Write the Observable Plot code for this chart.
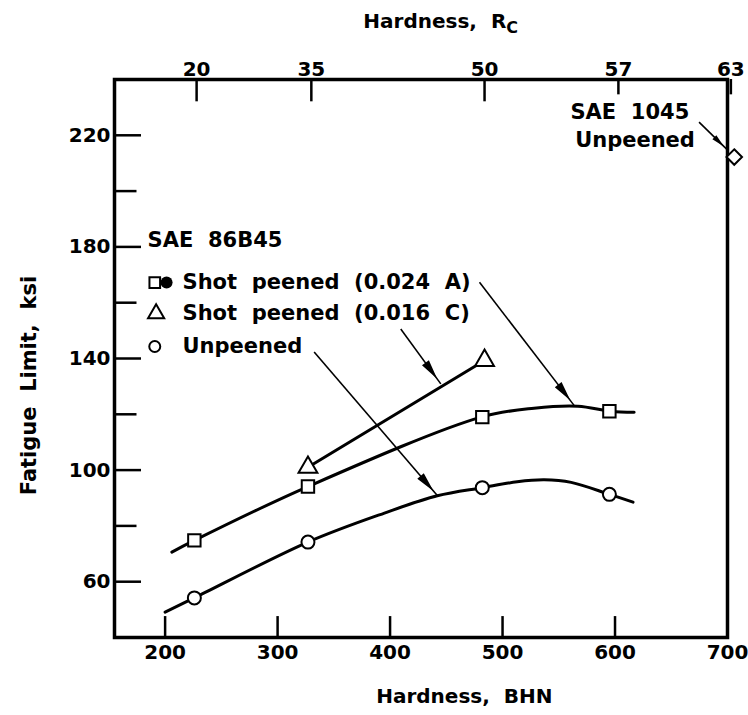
<!DOCTYPE html>
<html><head><meta charset="utf-8">
<script src="https://cdn.jsdelivr.net/npm/d3@7"></script>
<script src="https://cdn.jsdelivr.net/npm/@observablehq/plot@0.6"></script>
<style>
body{margin:0;background:#fff;}
#chart svg text{white-space:pre;}
</style></head><body><div id="chart"></div>
<script>
// ---- tick labels ----
const bhnTicks = [200, 300, 400, 500, 600, 700];
const ksiLabels = [60, 100, 140, 180, 220];
const ksiTicks = [60, 80, 100, 120, 140, 160, 180, 200, 220];
const rcLabels = [20, 35, 50, 57, 63];
const rcBhn = [228, 330, 484, 603, 703];

// ---- measured points, SAE 86B45 ----
const hardness = [226, 327, 482, 595];
const peenedA = [74.8, 94.1, 119.0, 121.1];      // shot peened (0.024 A)
const unpeened = [54.2, 74.2, 93.7, 91.3];       // unpeened
const peenedCHardness = [327, 484];
const peenedC = [101.0, 139.3];                  // shot peened (0.016 C)
// ---- SAE 1045 unpeened ----
const sae1045Hardness = [706];
const sae1045 = [212.2];

// ---- faired curves ----
const peenedACurveX = [206, 226, 327, 481, 528, 567, 596, 617];
const peenedACurveY = [70.6, 74.8, 94.1, 119.0, 122.2, 122.9, 121.1, 120.7];
const unpeenedCurveX = [200, 226, 327, 395, 442, 482, 513, 537, 561, 595, 616];
const unpeenedCurveY = [49.1, 54.2, 74.2, 84.6, 90.8, 93.7, 95.8, 96.5, 95.6, 91.3, 88.5];

// ---- leader arrows ----
const arrowX1 = [479.5, 409.5, 332.5, 674.7];
const arrowY1 = [167.3, 150.6, 142.3, 224.7];
const arrowX2 = [563.6, 445.1, 442.2, 700.6];
const arrowY2 = [123.2, 130.9, 90.8, 214.5];

// ---- legend / annotation text ----
const legendTitle = ["SAE  86B45"];
const legendLabels = ["Shot  peened  (0.024  A)", "Shot  peened  (0.016  C)", "Unpeened"];
const legendY = [167.2, 156.1, 144.3];
const noteLabels = ["SAE  1045", "Unpeened"];
const noteY = [228.2, 218.1];
const noteX = [666, 671];

const zip = (xs, ys) => xs.map((x, i) => ({x, y: ys[i]}));
const arrows = arrowX1.map((x1, i) => ({x1, y1: arrowY1[i], x2: arrowX2[i], y2: arrowY2[i]}));

const plot = Plot.plot({
  width: 748, height: 715,
  marginLeft: 114, marginRight: 21, marginTop: 79, marginBottom: 78,
  x: {domain: [155, 700], axis: null},
  y: {domain: [40, 240], axis: null},
  style: {fontFamily: "DejaVu Sans", fontSize: "20px", fontWeight: "bold", background: "white", color: "black", overflow: "visible"},
  marks: [
    Plot.frame({strokeWidth: 3.5}),
    // inward ticks
    Plot.ruleX(bhnTicks, {x: d => d, y1: 40, y2: 47.5, strokeWidth: 2.5}),
    Plot.ruleX(rcBhn, {x: d => d, y1: 240, y2: d => d > 590 ? 234.5 : 232, strokeWidth: 2.5}),
    Plot.ruleY(ksiTicks, {y: d => d, x1: 155, x2: d => ksiLabels.includes(d) ? 179 : 175, strokeWidth: 2.5}),
    // tick labels
    Plot.text(bhnTicks, {x: d => d, text: d => String(d), frameAnchor: "bottom", lineAnchor: "top", dy: 7}),
    Plot.text(ksiLabels, {y: d => d, text: d => String(d), frameAnchor: "left", textAnchor: "end", dx: -4}),
    Plot.text(rcLabels, {x: (d, i) => rcBhn[i], text: d => String(d), frameAnchor: "top", lineAnchor: "bottom", dy: -4}),
    // axis titles
    Plot.text(["Hardness,  BHN"], {x: 466, frameAnchor: "bottom", lineAnchor: "middle", dy: 59, fontSize: 20}),
    Plot.text(["Hardness,  R"], {x: 445, frameAnchor: "top", lineAnchor: "middle", dy: -58, fontSize: 20}),
    Plot.text(["Fatigue  Limit,  ksi"], {y: 130.3, frameAnchor: "left", textAnchor: "middle", lineAnchor: "middle", dx: -85, rotate: -90, fontSize: 21}),
    // curves
    Plot.line(zip(peenedCHardness, peenedC), {x: "x", y: "y", strokeWidth: 3}),
    Plot.line(zip(peenedACurveX, peenedACurveY), {x: "x", y: "y", curve: "catmull-rom", strokeWidth: 3}),
    Plot.line(zip(unpeenedCurveX, unpeenedCurveY), {x: "x", y: "y", curve: "catmull-rom", strokeWidth: 3}),
    // leader arrows
    Plot.link(arrows, {x1: "x1", y1: "y1", x2: "x2", y2: "y2", strokeWidth: 1.6}),
    Plot.arrow(arrows, {x1: "x1", y1: "y1", x2: "x2", y2: "y2", strokeWidth: 1.4, headLength: 22, headAngle: 24, insetEnd: 6, fill: "black"}),
    // data markers
    Plot.dot(zip(hardness, peenedA), {x: "x", y: "y", symbol: "square", r: 7, fill: "white", stroke: "black", strokeWidth: 2}),
    Plot.dot(zip(hardness, unpeened), {x: "x", y: "y", symbol: "circle", r: 6.5, fill: "white", stroke: "black", strokeWidth: 2}),
    Plot.dot(zip(peenedCHardness, peenedC), {x: "x", y: "y", symbol: "triangle", r: 7, fill: "white", stroke: "black", strokeWidth: 2}),
    Plot.dot(zip(sae1045Hardness, sae1045), {x: "x", y: "y", symbol: "diamond2", r: 7, fill: "white", stroke: "black", strokeWidth: 2}),
    // legend
    Plot.text(legendTitle, {x: 184.4, y: 182.3, textAnchor: "start", fontSize: 21}),
    Plot.text(legendLabels, {x: 215.5, y: (d, i) => legendY[i], textAnchor: "start", fontSize: 21}),
    Plot.dot([legendY[0]], {x: 190.8, y: d => d, symbol: "square", r: 6, fill: "white", stroke: "black", strokeWidth: 2}),
    Plot.dot([legendY[0]], {x: 201.3, y: d => d, symbol: "circle", r: 6, fill: "black"}),
    Plot.dot([legendY[1]], {x: 192, y: d => d, symbol: "triangle", r: 6, fill: "white", stroke: "black", strokeWidth: 2}),
    Plot.dot([legendY[2]], {x: 190.8, y: d => d, symbol: "circle", r: 5.5, fill: "white", stroke: "black", strokeWidth: 2}),
    // SAE 1045 note
    Plot.text(noteLabels, {x: (d, i) => noteX[i], y: (d, i) => noteY[i], textAnchor: "end", fontSize: 21})
  ]
});

// subscript C on the top axis title
d3.select(plot).selectAll("text").filter(function() { return this.textContent === "Hardness,  R"; })
  .append("tspan").attr("dy", "0.3em").attr("font-size", "16").text("C");

document.getElementById("chart").appendChild(plot);
</script>
</body></html>
